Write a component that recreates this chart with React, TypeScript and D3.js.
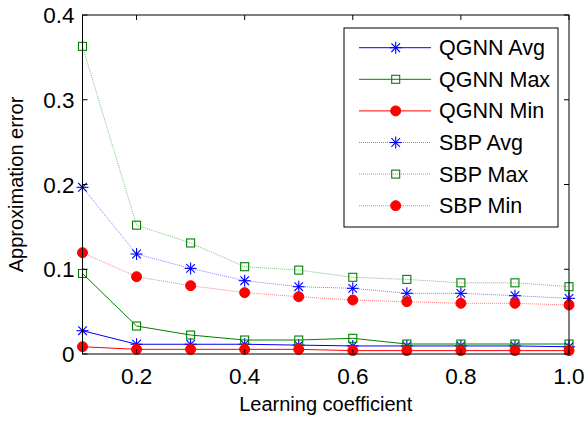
import React from "react";
import * as d3 from "d3";

// learning coefficient values
const coefs = [0.1, 0.2, 0.3, 0.4, 0.5, 0.6, 0.7, 0.8, 0.9, 1.0];

// approximation error per series
const qgnnAvg = [0.0275, 0.0115, 0.0115, 0.0115, 0.0105, 0.0095, 0.0095, 0.0095, 0.0095, 0.0085];
const qgnnMax = [0.095, 0.033, 0.0224, 0.0165, 0.0165, 0.0185, 0.0118, 0.0118, 0.0118, 0.0118];
const qgnnMin = [0.0086, 0.0055, 0.0055, 0.0055, 0.0055, 0.004, 0.004, 0.004, 0.004, 0.004];
const sbpAvg = [0.1967, 0.118, 0.101, 0.0865, 0.0794, 0.0775, 0.0716, 0.0716, 0.0688, 0.0657];
const sbpMax = [0.363, 0.152, 0.131, 0.103, 0.099, 0.0905, 0.088, 0.084, 0.084, 0.0794];
const sbpMin = [0.1195, 0.0912, 0.0806, 0.0724, 0.0676, 0.0637, 0.0617, 0.0598, 0.0598, 0.0578];

const xTicks = [0.2, 0.4, 0.6, 0.8, 1.0];
const yTicks = [0, 0.1, 0.2, 0.3, 0.4];

type Marker = "star" | "square" | "circle";

const series: { name: string; values: number[]; color: string; marker: Marker; dotted: boolean }[] = [
  { name: "QGNN Avg", values: qgnnAvg, color: "#0000ff", marker: "star", dotted: false },
  { name: "QGNN Max", values: qgnnMax, color: "#008000", marker: "square", dotted: false },
  { name: "QGNN Min", values: qgnnMin, color: "#ff0000", marker: "circle", dotted: false },
  { name: "SBP Avg", values: sbpAvg, color: "#0000ff", marker: "star", dotted: true },
  { name: "SBP Max", values: sbpMax, color: "#008000", marker: "square", dotted: true },
  { name: "SBP Min", values: sbpMin, color: "#ff0000", marker: "circle", dotted: true },
];

const W = 587, H = 421;
const margin = { top: 15, right: 18, bottom: 67, left: 82.5 };
const innerW = W - margin.left - margin.right;
const innerH = H - margin.top - margin.bottom;
const font = "'Liberation Sans', Arial, sans-serif";

function MarkerGlyph({ type, x, y, color }: { type: Marker; x: number; y: number; color: string }) {
  if (type === "star") {
    const r = 6, d = 4.3;
    return (
      <g stroke={color} strokeWidth={1.1}>
        <line x1={x - r} y1={y} x2={x + r} y2={y} />
        <line x1={x} y1={y - r} x2={x} y2={y + r} />
        <line x1={x - d} y1={y - d} x2={x + d} y2={y + d} />
        <line x1={x - d} y1={y + d} x2={x + d} y2={y - d} />
      </g>
    );
  }
  if (type === "square") {
    return <rect x={x - 4} y={y - 4} width={8} height={8} fill="none" stroke={color} strokeWidth={1.1} />;
  }
  return <circle cx={x} cy={y} r={5} fill={color} stroke={color} />;
}

export default function App() {
  const x = d3.scaleLinear().domain([0.1, 1.0]).range([0, innerW]);
  const y = d3.scaleLinear().domain([0, 0.4]).range([innerH, 0]);

  const line = d3.line<number>()
    .x((_, i) => x(coefs[i]))
    .y(d => y(d));

  const legend = { x: 344 - margin.left, y: 28 - margin.top, w: 214, h: 199 };
  const rowY = (i: number) => legend.y + 19.7 + i * 31.6;

  return (
    <svg width={W} height={H} style={{ position: "absolute", left: 0, top: 0, background: "#fff" }} fontFamily={font}>
      <rect width={W} height={H} fill="#fff" />
      <g transform={`translate(${margin.left},${margin.top})`}>
        {/* series */}
        {series.map(s => (
          <g key={s.name}>
            <path
              d={line(s.values) || ""}
              fill="none"
              stroke={s.color}
              strokeWidth={1}
              strokeOpacity={s.dotted ? 0.5 : 1}
              strokeDasharray={s.dotted ? "1,1" : undefined}
            />
            {s.values.map((v, i) => (
              <MarkerGlyph key={i} type={s.marker} x={x(coefs[i])} y={y(v)} color={s.color} />
            ))}
          </g>
        ))}

        {/* box */}
        <rect x={0} y={0} width={innerW} height={innerH} fill="none" stroke="#000" strokeWidth={1} />

        {/* ticks */}
        {xTicks.map(t => (
          <g key={"x" + t}>
            <line x1={x(t)} x2={x(t)} y1={innerH} y2={innerH - 5} stroke="#000" />
            <line x1={x(t)} x2={x(t)} y1={0} y2={5} stroke="#000" />
            <text x={x(t)} y={innerH + 30} textAnchor="middle" fontSize={22.5}>{t.toFixed(1)}</text>
          </g>
        ))}
        {yTicks.map(t => (
          <g key={"y" + t}>
            <line x1={0} x2={5} y1={y(t)} y2={y(t)} stroke="#000" />
            <line x1={innerW} x2={innerW - 5} y1={y(t)} y2={y(t)} stroke="#000" />
            <text x={-8} y={y(t) + 8} textAnchor="end" fontSize={22.5}>{t === 0 ? "0" : t.toFixed(1)}</text>
          </g>
        ))}

        {/* axis labels */}
        <text x={innerW / 2} y={innerH + 57} textAnchor="middle" fontSize={20}>Learning coefficient</text>
        <text transform={`translate(${-60},${innerH / 2}) rotate(-90)`} textAnchor="middle" fontSize={20}>Approximation error</text>

        {/* legend */}
        <rect x={legend.x} y={legend.y} width={legend.w} height={legend.h} fill="#fff" stroke="#000" />
        {series.map((s, i) => (
          <g key={"leg" + s.name}>
            <line
              x1={359 - margin.left}
              x2={431 - margin.left}
              y1={rowY(i)}
              y2={rowY(i)}
              stroke={s.color}
              strokeWidth={1}
              strokeOpacity={s.dotted ? 0.5 : 1}
              strokeDasharray={s.dotted ? "1,1" : undefined}
            />
            <MarkerGlyph type={s.marker} x={395.7 - margin.left} y={rowY(i)} color={s.color} />
            <text x={439 - margin.left} y={rowY(i) + 7.5} fontSize={21.5}>{s.name}</text>
          </g>
        ))}
      </g>
    </svg>
  );
}
